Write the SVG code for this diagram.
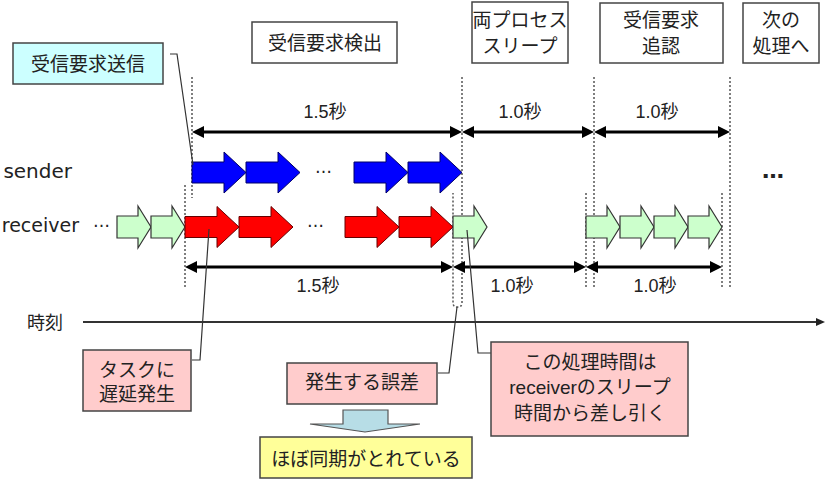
<svg xmlns="http://www.w3.org/2000/svg" width="828" height="495" viewBox="0 0 828 495">
<style>
.box{stroke:#444;stroke-width:1.5}
.w{fill:#fff}.cy{fill:#ccffff}.pk{fill:#ffcccc}.yl{fill:#ffff99}
.t{font-family:"Liberation Sans","Noto Sans CJK JP",sans-serif;font-size:19px;fill:#222;text-anchor:middle}
.n{font-family:"Liberation Sans","Noto Sans CJK JP",sans-serif;font-size:18px;fill:#222;text-anchor:middle}
.lab{font-family:"DejaVu Sans",sans-serif;font-size:20px;fill:#222;text-anchor:end}
.dots{font-family:"DejaVu Sans",sans-serif;font-size:17px;fill:#222}
.dot{fill:none;stroke:#555;stroke-width:1.5;stroke-dasharray:2,2}
.dim{stroke:#000;stroke-width:3;fill:none;marker-start:url(#ah);marker-end:url(#ah)}
.call{fill:none;stroke:#333;stroke-width:1.2}
.blue{fill:#0000ff;stroke:#000066;stroke-width:1}
.red{fill:#ff0000;stroke:#660000;stroke-width:1}
.grn{fill:#ccffcc;stroke:#333;stroke-width:1.2}
</style>
<defs>
<marker id="ah" markerUnits="userSpaceOnUse" markerWidth="12" markerHeight="12" refX="2" refY="6" orient="auto-start-reverse"><path d="M0,0 L12,6 L0,12 z" fill="#000"/></marker>
<marker id="ax" markerUnits="userSpaceOnUse" markerWidth="10" markerHeight="10" refX="2" refY="5" orient="auto"><path d="M0,1 L9,5 L0,9 z" fill="#222"/></marker>
<path id="big" d="M0,-10.5 H32 V-20.5 L54,0 L32,20.5 V10.5 H0 z"/>
<path id="sml" d="M0,-11 H21 V-21 L34,0 L21,21 V11 H0 z"/>
</defs>

<g id="dotted-lines">
<path class="dot" d="M192,77 V198"/>
<path class="dot" d="M185,185 V288"/>
<path class="dot" d="M462,77 V303 Q462,307 457.5,307 Q453,307 453,303 V193"/>
<path class="dot" d="M594,77 V288"/>
<path class="dot" d="M586,193 V287"/>
<path class="dot" d="M730,77 V288"/>
<path class="dot" d="M722,193 V287"/>
</g>

<g id="labels-rows">
<text class="lab" x="72" y="178">sender</text>
<text class="lab" x="79" y="232" style="font-size:19px">receiver</text>
<text class="dots" x="93" y="227">…</text>
<text class="dots" x="315" y="173">…</text>
<text class="dots" x="307" y="227">…</text>
<text class="dots" x="762" y="178" style="font-size:22px;font-weight:bold">…</text>
</g>

<g id="sender-arrows">
<use href="#big" class="blue" x="192" y="172.5"/>
<use href="#big" class="blue" x="246" y="172.5"/>
<use href="#big" class="blue" x="354" y="172.5"/>
<use href="#big" class="blue" x="408" y="172.5"/>
</g>

<g id="receiver-arrows">
<use href="#sml" class="grn" x="117" y="227"/>
<use href="#sml" class="grn" x="151" y="227"/>
<use href="#big" class="red" x="185" y="227"/>
<use href="#big" class="red" x="239" y="227"/>
<use href="#big" class="red" x="345" y="227"/>
<use href="#big" class="red" x="399" y="227"/>
<use href="#sml" class="grn" x="453" y="227"/>
<use href="#sml" class="grn" x="586" y="227"/>
<use href="#sml" class="grn" x="620" y="227"/>
<use href="#sml" class="grn" x="654" y="227"/>
<use href="#sml" class="grn" x="688" y="227"/>
</g>

<g id="connectors">
<line class="dim" x1="202" y1="132" x2="452" y2="132"/>
<line class="dim" x1="472" y1="132" x2="584" y2="132"/>
<line class="dim" x1="604" y1="132" x2="720" y2="132"/>
<line class="dim" x1="195" y1="267" x2="443" y2="267"/>
<line class="dim" x1="463" y1="267" x2="576" y2="267"/>
<line class="dim" x1="596" y1="267" x2="712" y2="267"/>
<line x1="83" y1="322" x2="818" y2="322" stroke="#333" stroke-width="2" marker-end="url(#ax)"/>
<polyline class="call" points="170,54 177,54 193,165"/>
<polyline class="call" points="192,360 200,360 209,229"/>
<polyline class="call" points="438,373 449,373 457,307"/>
<polyline class="call" points="491,353 478,353 467,230"/>
</g>

<g id="dim-labels">
<text class="n" x="325" y="118">1.5秒</text>
<text class="n" x="520" y="118">1.0秒</text>
<text class="n" x="657" y="118">1.0秒</text>
<text class="n" x="318" y="292">1.5秒</text>
<text class="n" x="512" y="292">1.0秒</text>
<text class="n" x="655" y="292">1.0秒</text>
<text class="t" x="45" y="329" style="font-size:18px">時刻</text>
</g>

<g id="box-send">
<rect class="box cy" x="13" y="43" width="150" height="41"/>
<text class="t" x="88" y="71">受信要求送信</text>
</g>
<g id="box-detect">
<rect class="box w" x="252" y="22" width="145" height="41"/>
<text class="t" x="325" y="50">受信要求検出</text>
</g>
<g id="box-sleep">
<rect class="box w" x="472" y="2" width="96" height="61"/>
<text class="t" x="520" y="27">両プロセス</text>
<text class="t" x="520" y="53">スリープ</text>
</g>
<g id="box-confirm">
<rect class="box w" x="600" y="3" width="123" height="60"/>
<text class="t" x="661" y="27">受信要求</text>
<text class="t" x="661" y="53">追認</text>
</g>
<g id="box-next">
<rect class="box w" x="743" y="3" width="76" height="60"/>
<text class="t" x="781" y="27">次の</text>
<text class="t" x="781" y="53">処理へ</text>
</g>
<g id="box-delay">
<rect class="box pk" x="83" y="350" width="108" height="61"/>
<text class="t" x="137" y="377">タスクに</text>
<text class="t" x="137" y="401">遅延発生</text>
</g>
<g id="box-error">
<rect class="box pk" x="287" y="363" width="150" height="41"/>
<text class="t" x="362" y="389">発生する誤差</text>
</g>
<g id="box-subtract">
<rect class="box pk" x="491" y="342" width="197" height="94"/>
<text class="t" x="590" y="369">この処理時間は</text>
<text class="t" x="590" y="394">receiverのスリープ</text>
<text class="t" x="590" y="420">時間から差し引く</text>
</g>
<g id="block-arrow">
<polygon points="343,410 388,410 388,424 420,424 365,432 310,424 343,424" fill="#b7dde6" stroke="#555" stroke-width="1.2"/>
</g>
<g id="box-sync">
<rect class="box yl" x="260" y="437" width="212" height="41"/>
<text class="t" x="366" y="466">ほぼ同期がとれている</text>
</g>
</svg>
